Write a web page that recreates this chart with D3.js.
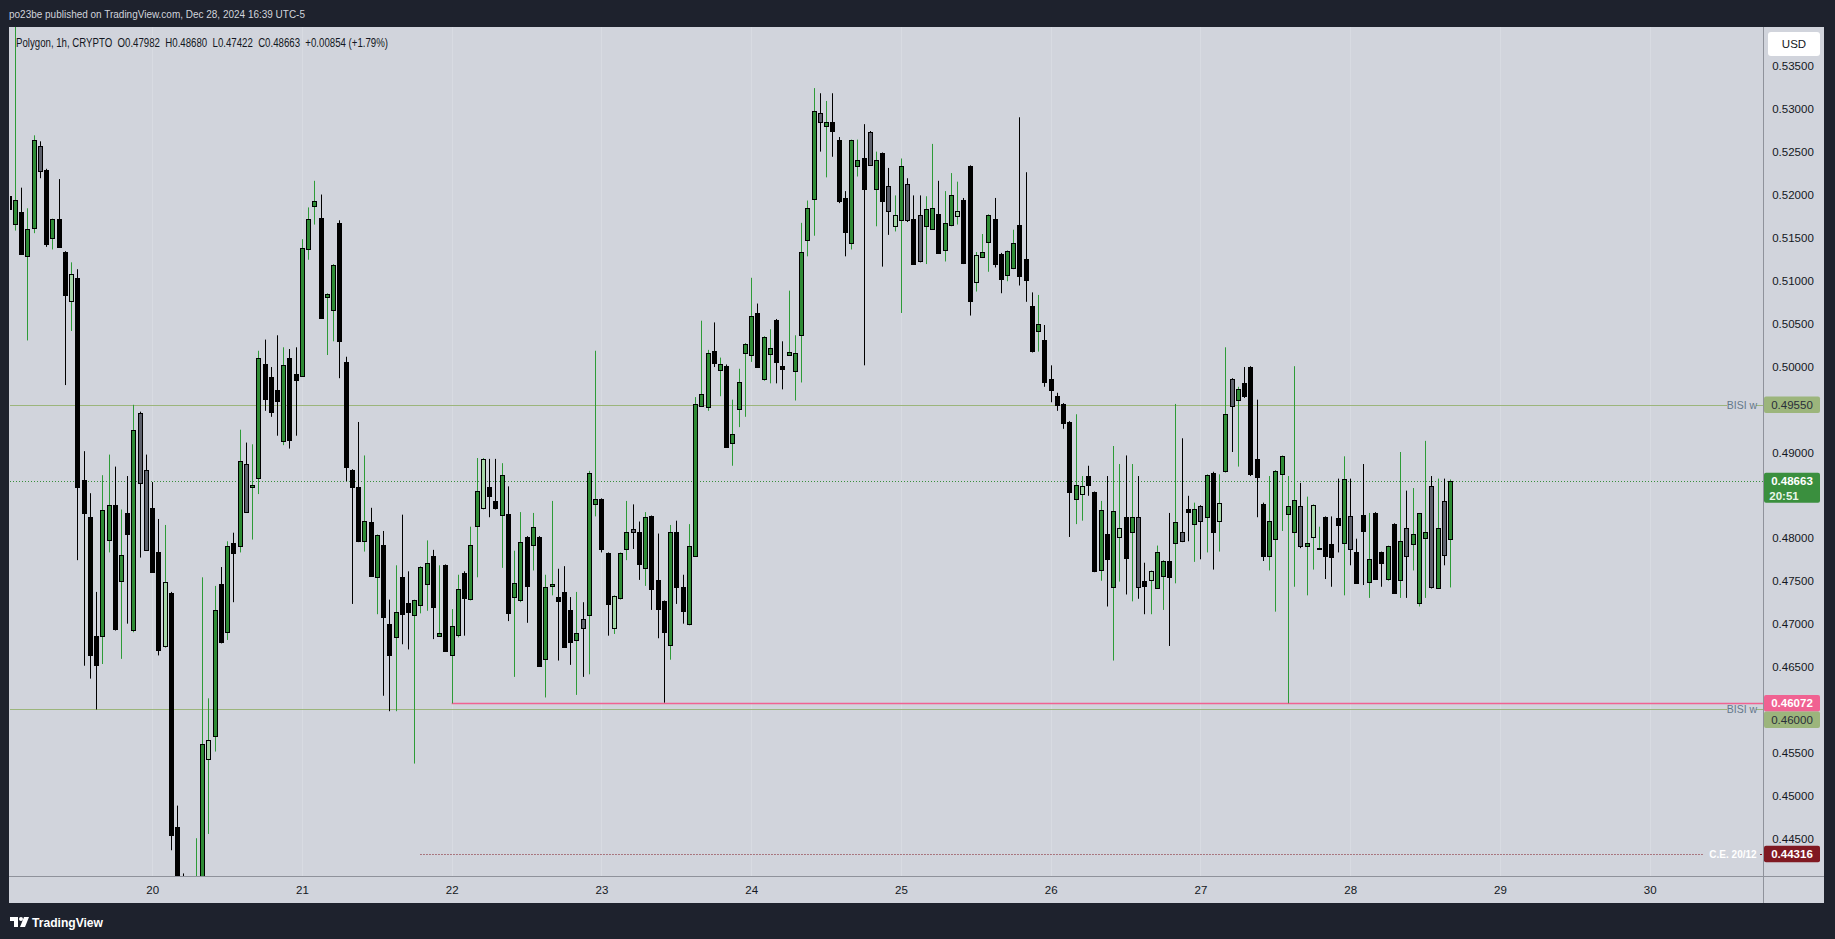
<!DOCTYPE html>
<html><head><meta charset="utf-8">
<script src="https://cdn.jsdelivr.net/npm/d3@7"></script>
<style>html,body{margin:0;padding:0;background:#1e222d;}svg{display:block;}</style>
</head><body>
<script>
// ---------- DATA (Polygon, 1h, CRYPTO) ----------
const startTime = "2024-12-19T01:00:00Z"; // first hourly bar, bars follow every hour
const open = [
 0.5198,0.5166,0.5180,0.5129,0.5160,0.5257,0.5229,0.5149,0.5172,0.5133,0.5075,0.5103,0.4867,0.4824,0.4686,0.4686,0.4797,0.4838,0.4750,0.4829,0.4693,0.4945,0.4879,
 0.4835,0.4784,0.4674,0.4736,0.4463,0.4380,0.4340,0.4370,0.4400,0.4543,0.4569,0.4746,0.4690,0.4794,0.4790,0.4886,0.4860,0.4870,0.5002,0.4987,0.4972,0.4913,0.5009,0.4991,
 0.4989,0.5137,0.5187,0.5173,0.5080,0.5065,0.5167,0.5005,0.4879,0.4859,0.4797,0.4819,0.4754,0.4792,0.4700,0.4685,0.4754,0.4724,0.4710,0.4722,0.4747,0.4779,0.4686,0.4768,
 0.4663,0.4686,0.4759,0.4729,0.4813,0.4835,0.4859,0.4843,0.4826,0.4828,0.4731,0.4727,0.4801,0.4792,0.4801,0.4659,0.4744,0.4731,0.4737,0.4716,0.4681,0.4705,0.4711,0.4839,
 0.4845,0.4782,0.4695,0.4729,0.4787,0.4810,0.4807,0.4764,0.4825,0.4751,0.4726,0.4675,0.4807,0.4743,0.4700,0.4779,0.4954,0.4952,0.5018,0.4996,0.5000,0.4910,0.4950,0.5015,
 0.5014,0.5062,0.4985,0.5014,0.5054,0.5000,0.5014,0.4994,0.5036,0.5147,0.5194,0.5295,0.5280,0.5284,0.5263,0.5196,0.5143,0.5233,0.5242,0.5273,0.5206,0.5248,0.5210,0.5163,
 0.5170,0.5212,0.5172,0.5176,0.5163,0.5160,0.5177,0.5136,0.5165,0.5175,0.5194,0.5233,0.5097,0.5127,0.5144,0.5172,0.5131,0.5106,0.5114,0.5164,0.5125,0.5070,0.5041,0.5031,
 0.4985,0.4965,0.4956,0.4935,0.4846,0.4851,0.4872,0.4853,0.4762,0.4805,0.4742,0.4801,0.4824,0.4807,0.4824,0.4750,0.4751,0.4742,0.4756,0.4773,0.4793,0.4807,0.4834,0.4817,
 0.4837,0.4824,0.4876,0.4820,0.4878,0.4985,0.4960,0.4980,0.4999,0.4892,0.4840,0.4779,0.4799,0.4874,0.4828,0.4807,0.4837,0.4791,0.4801,0.4787,0.4824,0.4793,0.4823,0.4793,
 0.4825,0.4784,0.4827,0.4748,0.4829,0.4783,0.4751,0.4816,0.4751,0.4812,0.4792,0.4724,0.4800,0.4860,0.4742,0.4843,0.47982
];
const high = [
 0.5202,0.5420,0.5208,0.5184,0.5269,0.5262,0.5230,0.5172,0.5218,0.5134,0.5121,0.5113,0.4901,0.4852,0.4737,0.4873,0.4897,0.4883,0.4833,0.4872,0.4955,0.4947,0.4897,
 0.4865,0.4822,0.4815,0.4737,0.4488,0.4409,0.4395,0.4450,0.4754,0.4613,0.4744,0.4766,0.4796,0.4806,0.4926,0.4911,0.4909,0.5018,0.5031,0.4999,0.5036,0.5022,0.5020,0.5022,
 0.5148,0.5185,0.5216,0.5200,0.5085,0.5119,0.5170,0.5011,0.4880,0.4935,0.4896,0.4835,0.4804,0.4808,0.4728,0.4768,0.4827,0.4761,0.4728,0.4767,0.4797,0.4786,0.4768,0.4769,
 0.4717,0.4757,0.4761,0.4813,0.4893,0.4893,0.4892,0.4892,0.4887,0.4860,0.4785,0.4830,0.4802,0.4829,0.4802,0.4757,0.4843,0.4764,0.4767,0.4731,0.4737,0.4725,0.4878,0.5018,
 0.4846,0.4783,0.4733,0.4783,0.4843,0.4839,0.4819,0.4830,0.4826,0.4805,0.4727,0.4815,0.4820,0.4757,0.4816,0.4964,0.5053,0.5019,0.5051,0.5010,0.5002,0.4961,0.4997,0.5027,
 0.5103,0.5073,0.5035,0.5043,0.5055,0.5029,0.5088,0.5036,0.5167,0.5193,0.5324,0.5318,0.5309,0.5318,0.5267,0.5204,0.5264,0.5264,0.5282,0.5274,0.5250,0.5249,0.5231,0.5199,
 0.5242,0.5219,0.5199,0.5199,0.5198,0.5259,0.5216,0.5204,0.5225,0.5215,0.5196,0.5234,0.5133,0.5154,0.5177,0.5196,0.5132,0.5135,0.5159,0.5290,0.5226,0.5086,0.5083,0.5048,
 0.5001,0.4969,0.4957,0.4936,0.4944,0.4872,0.4884,0.4854,0.4843,0.4872,0.4907,0.4886,0.4896,0.4886,0.4872,0.4771,0.4762,0.4791,0.4774,0.4829,0.4956,0.4916,0.4849,0.4841,
 0.4838,0.4874,0.4877,0.4874,0.5022,0.4986,0.4976,0.4999,0.5000,0.4961,0.4841,0.4872,0.4879,0.4896,0.4872,0.5000,0.4864,0.4848,0.4839,0.4813,0.4825,0.4825,0.4869,0.4895,
 0.4869,0.4799,0.4886,0.4829,0.4830,0.4784,0.4791,0.4817,0.4900,0.4855,0.4858,0.4829,0.4913,0.4872,0.4869,0.4869,0.48680
];
const low = [
 0.5180,0.5158,0.5130,0.5030,0.5155,0.5219,0.5139,0.5136,0.5138,0.4978,0.5041,0.4774,0.4651,0.4636,0.4600,0.4653,0.4783,0.4692,0.4659,0.4700,0.4690,0.4777,0.4785,
 0.4760,0.4663,0.4672,0.4436,0.4355,0.4310,0.4300,0.4350,0.4385,0.4455,0.4551,0.4677,0.4681,0.4725,0.4783,0.4829,0.4798,0.4851,0.4948,0.4941,0.4919,0.4908,0.4904,0.4919,
 0.4988,0.5124,0.5165,0.5055,0.5013,0.5029,0.4986,0.4866,0.4723,0.4795,0.4784,0.4755,0.4711,0.4616,0.4598,0.4598,0.4676,0.4670,0.4537,0.4712,0.4715,0.4682,0.4685,0.4667,
 0.46072,0.4684,0.4686,0.4727,0.4754,0.4833,0.4824,0.4833,0.4765,0.4703,0.4638,0.4725,0.4701,0.4762,0.4650,0.4614,0.4733,0.4657,0.4672,0.4652,0.4617,0.4638,0.4641,0.4825,
 0.4783,0.4686,0.4688,0.4728,0.4774,0.4787,0.4751,0.4744,0.4716,0.4683,0.4608,0.4658,0.4723,0.4700,0.4698,0.4778,0.4953,0.4948,0.4999,0.4965,0.4905,0.4884,0.4929,0.4941,
 0.5005,0.4998,0.4983,0.4980,0.4980,0.4973,0.5012,0.4960,0.4981,0.5128,0.5152,0.5250,0.5220,0.5244,0.5190,0.5128,0.5136,0.5221,0.5001,0.5234,0.5163,0.5116,0.5153,0.5157,
 0.5062,0.5168,0.5118,0.5121,0.5119,0.5159,0.5131,0.5122,0.5163,0.5165,0.5119,0.5059,0.5087,0.5126,0.5110,0.5115,0.5085,0.5099,0.5113,0.5094,0.5075,0.5016,0.5017,0.4976,
 0.4958,0.4948,0.4927,0.4801,0.4816,0.4820,0.4849,0.4760,0.4750,0.4720,0.4657,0.4749,0.4734,0.4726,0.4729,0.4711,0.4711,0.4741,0.4716,0.4674,0.4747,0.4795,0.4796,0.4772,
 0.4775,0.4783,0.4763,0.4784,0.4876,0.4900,0.4883,0.4963,0.4872,0.4824,0.4773,0.4762,0.4714,0.4808,0.46072,0.4743,0.4788,0.4733,0.4763,0.4786,0.4752,0.4743,0.4783,0.4733,
 0.4768,0.4747,0.4745,0.4730,0.4751,0.4743,0.4750,0.4735,0.4730,0.4730,0.4762,0.4720,0.4730,0.4741,0.4741,0.4768,0.47422
];
const close = [
 0.5183,0.5194,0.5131,0.5160,0.5263,0.5228,0.5143,0.5171,0.5139,0.5083,0.5107,0.4859,0.4828,0.4663,0.4652,0.4833,0.4838,0.4693,0.4780,0.4804,0.4926,0.4863,0.4786,
 0.4761,0.4670,0.4748,0.4454,0.4380,0.4340,0.4370,0.4400,0.4560,0.4565,0.4716,0.4678,0.4790,0.4782,0.4889,0.4830,0.4862,0.5010,0.4961,0.4946,0.4959,0.5001,0.4913,0.4984,
 0.5138,0.5172,0.5193,0.5057,0.5084,0.5118,0.5029,0.4883,0.4859,0.4796,0.4820,0.4756,0.4803,0.4708,0.4664,0.4714,0.4711,0.4713,0.4727,0.4766,0.4771,0.4720,0.4689,0.4668,
 0.4697,0.4740,0.4730,0.4792,0.4854,0.4892,0.4848,0.4835,0.4873,0.4713,0.4747,0.4795,0.4744,0.4813,0.4651,0.4743,0.4746,0.4726,0.4673,0.4679,0.4689,0.4695,0.4876,0.4845,
 0.4787,0.4722,0.4732,0.4782,0.4807,0.4806,0.4770,0.4824,0.4740,0.4717,0.4690,0.4807,0.4743,0.4715,0.4791,0.4956,0.4968,0.5015,0.5004,0.5003,0.4906,0.4921,0.4981,0.5026,
 0.5059,0.4999,0.5034,0.5021,0.5005,0.4996,0.5017,0.5015,0.5133,0.5184,0.5297,0.5285,0.5285,0.5273,0.5192,0.5156,0.5263,0.5240,0.5206,0.5235,0.5240,0.5192,0.5181,0.5176,
 0.5233,0.5170,0.5119,0.5122,0.5183,0.5184,0.5132,0.5167,0.5200,0.5181,0.5121,0.5076,0.5129,0.5133,0.5176,0.5119,0.5102,0.5134,0.5143,0.5104,0.5100,0.5017,0.5049,0.4982,
 0.4972,0.4954,0.4934,0.4854,0.4862,0.4860,0.4861,0.4761,0.4832,0.4776,0.4831,0.4812,0.4776,0.4824,0.4743,0.4744,0.4761,0.4784,0.4773,0.4754,0.4818,0.4796,0.4831,0.4834,
 0.4820,0.4873,0.4807,0.4841,0.4944,0.4953,0.4973,0.4965,0.4874,0.4871,0.4779,0.4820,0.4878,0.4895,0.4837,0.4844,0.4790,0.4794,0.4838,0.4788,0.4779,0.4778,0.4815,0.4868,
 0.4786,0.4748,0.4808,0.4775,0.4752,0.4770,0.4790,0.4736,0.4796,0.4779,0.4804,0.4829,0.4807,0.4742,0.4812,0.4780,0.48663
];
// bars painted in the muted variant (grey when falling, pale green when rising)
const mutedBars = [5,10,21,22,25,32,38,76,92,97,100,130,138,141,142,144,146,152,155,172,178,181,183,188,191,194,196,207,209,215,224,228,230];

const dayTicks = ["2024-12-20","2024-12-21","2024-12-22","2024-12-23","2024-12-24","2024-12-25","2024-12-26","2024-12-27","2024-12-28","2024-12-29","2024-12-30"];
const priceTicks = [0.445,0.450,0.455,0.460,0.465,0.470,0.475,0.480,0.485,0.490,0.495,0.500,0.505,0.510,0.515,0.520,0.525,0.530,0.535];

const bisiLevels = [0.4955, 0.4600];
const lowLevel = {price:0.46072, from:"2024-12-22T00:00:00Z"};
const ceLevel = {price:0.44316, from:"2024-12-21T19:00:00Z", label:"C.E. 20/12"};
const lastPrice = 0.48663, countdown = "20:51";
const headerText = "po23be published on TradingView.com, Dec 28, 2024 16:39 UTC-5";
const legendText = "Polygon, 1h, CRYPTO  O0.47982  H0.48680  L0.47422  C0.48663  +0.00854 (+1.79%)";

// ---------- DRAWING ----------
const W = 1835, H = 939;
const P = {l:10, t:27, r:1763, b:876};
const FONT = "'Liberation Sans', Arial, sans-serif";
const svg = d3.select("body").append("svg").attr("width", W).attr("height", H);
svg.append("rect").attr("width", W).attr("height", H).attr("fill", "#1e222d");
svg.append("rect").attr("x", 9).attr("y", 27).attr("width", 1824 - 9).attr("height", 903 - 27).attr("fill", "#d1d4dc");

const t0 = Date.UTC(2024, 11, 20), HR = 3600e3;
const x = d3.scaleUtc().domain([new Date(t0 - 22.79 * HR), new Date(t0 + 258.16 * HR)]).range([P.l, P.r]);
const y = d3.scaleLinear().domain([0.4406, 0.53952]).range([P.b, P.t]);

const start = Date.parse(startTime);
const bars = open.map((o, i) => ({t: new Date(start + i * HR), o, h: high[i], l: low[i], c: close[i], muted: mutedBars.includes(i)}));

svg.append("defs").append("clipPath").attr("id", "pane").append("rect")
  .attr("x", P.l).attr("y", P.t).attr("width", P.r - P.l).attr("height", P.b - P.t);

// faint day separators
const days = dayTicks.map(d => new Date(d + "T00:00:00Z"));
svg.append("g").selectAll("line").data(days).join("line")
  .attr("x1", d => Math.round(x(d)) + 0.5).attr("x2", d => Math.round(x(d)) + 0.5)
  .attr("y1", P.t).attr("y2", P.b).attr("stroke", "#d8dbe2").attr("stroke-width", 1);

const plot = svg.append("g").attr("clip-path", "url(#pane)");

// level lines
bisiLevels.forEach(p => {
  const yy = Math.round(y(p)) + 0.5;
  plot.append("line").attr("x1", P.l).attr("x2", 1727).attr("y1", yy).attr("y2", yy).attr("stroke", "#9cb57c").attr("stroke-width", 1);
  svg.append("line").attr("x1", 1756).attr("x2", P.r).attr("y1", yy).attr("y2", yy).attr("stroke", "#9cb57c").attr("stroke-width", 1);
  svg.append("text").attr("x", 1742).attr("y", yy).attr("dy", "0.35em").attr("text-anchor", "middle")
    .attr("font-family", FONT).attr("font-size", 10.5).attr("fill", "#64788a").text("BISI w");
});
{
  const yy = Math.round(y(lowLevel.price)) + 0.5;
  plot.append("line").attr("x1", x(new Date(lowLevel.from))).attr("x2", P.r).attr("y1", yy).attr("y2", yy)
    .attr("stroke", "#f06292").attr("stroke-width", 1.3);
}
{
  const yy = Math.round(y(ceLevel.price)) + 0.5;
  plot.append("line").attr("x1", x(new Date(ceLevel.from))).attr("x2", 1703).attr("y1", yy).attr("y2", yy)
    .attr("stroke", "#801922").attr("stroke-width", 1).attr("stroke-dasharray", "1,2");
  svg.append("text").attr("x", 1733).attr("y", yy).attr("dy", "0.35em").attr("text-anchor", "middle")
    .attr("font-family", FONT).attr("font-size", 10).attr("font-weight", "bold").attr("fill", "#ffffff").text(ceLevel.label);
  svg.append("line").attr("x1", 1760).attr("x2", 1762).attr("y1", yy).attr("y2", yy).attr("stroke", "#801922");
}
{
  const yy = Math.round(y(lastPrice)) + 0.5;
  plot.append("line").attr("x1", P.l).attr("x2", P.r).attr("y1", yy).attr("y2", yy)
    .attr("stroke", "#388e3c").attr("stroke-width", 1).attr("stroke-dasharray", "1,2");
}

// candles
const cx = d => Math.round(x(d.t)) + 0.5;
const g = plot.append("g");
g.selectAll("line.wick").data(bars).join("line").attr("class", "wick")
  .attr("x1", cx).attr("x2", cx)
  .attr("y1", d => y(d.h)).attr("y2", d => y(d.l))
  .attr("stroke", d => d.c >= d.o ? "#2e9b38" : "#000000").attr("stroke-width", 1);
g.selectAll("rect.body").data(bars).join("rect").attr("class", "body")
  .attr("x", d => cx(d) - 2).attr("width", 4)
  .attr("y", d => Math.round(y(Math.max(d.o, d.c))) + 0.5)
  .attr("height", d => Math.max(1, Math.round(y(Math.min(d.o, d.c)) - y(Math.max(d.o, d.c)))))
  .attr("fill", d => d.c >= d.o ? (d.muted ? "#a5d6a7" : "#2e8b35") : (d.muted ? "#5d606b" : "#000000"))
  .attr("stroke", "#000000").attr("stroke-width", 1);

// axes separators
svg.append("line").attr("x1", P.r + 0.5).attr("x2", P.r + 0.5).attr("y1", 27).attr("y2", 903).attr("stroke", "#8f929b");
svg.append("line").attr("x1", 9).attr("x2", 1824).attr("y1", P.b + 0.5).attr("y2", P.b + 0.5).attr("stroke", "#8f929b");

// x axis
const xAxis = svg.append("g").attr("transform", `translate(0,${P.b})`)
  .call(d3.axisBottom(x).tickValues(days).tickFormat(d3.utcFormat("%-d")).tickSize(0));
xAxis.select(".domain").remove();
xAxis.selectAll("text").attr("y", 18).attr("dy", 0).attr("font-family", FONT).attr("font-size", 11.5).attr("fill", "#131722");

// price tags (stacked so they never overlap, as on the price scale)
const tagDefs = [
  {price: bisiLevels[0], bg: "#9cb57c", fg: "#2a2e39", bold: false},
  {price: lastPrice, bg: "#3a8f3e", fg: "#ffffff", bold: true, sub: countdown},
  {price: lowLevel.price, bg: "#f06292", fg: "#ffffff", bold: true},
  {price: bisiLevels[1], bg: "#9cb57c", fg: "#2a2e39", bold: false},
  {price: ceLevel.price, bg: "#801922", fg: "#ffffff", bold: true}
];
let prevBottom = -Infinity;
tagDefs.sort((a, b) => y(a.price) - y(b.price)).forEach(t => {
  const h = t.sub ? 30 : 16.5;
  let top = y(t.price) - 8.2;
  if (top < prevBottom) top = prevBottom;
  t.top = top; t.bottom = top + h;
  prevBottom = t.bottom;
});

// y axis (labels hidden where a tag covers them)
const yAxis = svg.append("g").attr("transform", `translate(${P.r},0)`)
  .call(d3.axisRight(y).tickValues(priceTicks).tickFormat(d3.format(".5f")).tickSize(0));
yAxis.select(".domain").remove();
yAxis.selectAll("text").attr("x", 30).attr("text-anchor", "middle").attr("dy", "0.35em")
  .attr("font-family", FONT).attr("font-size", 11.5).attr("fill", "#131722");
yAxis.selectAll(".tick").filter(v => tagDefs.some(t => y(v) > t.top - 5 && y(v) < t.bottom + 5)).remove();

tagDefs.forEach(t => {
  svg.append("rect").attr("x", 1764).attr("y", t.top).attr("width", 56).attr("height", t.bottom - t.top).attr("rx", 2).attr("fill", t.bg);
  const cy = t.top + 8.2;
  svg.append("text").attr("x", 1792).attr("y", cy).attr("dy", "0.36em").attr("text-anchor", "middle")
    .attr("font-family", FONT).attr("font-size", 11.5).attr("font-weight", t.bold ? "bold" : "normal").attr("fill", t.fg)
    .text(d3.format(".5f")(t.price));
  if (t.sub) svg.append("text").attr("x", 1784).attr("y", cy + 14.5).attr("dy", "0.36em").attr("text-anchor", "middle")
    .attr("font-family", FONT).attr("font-size", 11.5).attr("font-weight", "bold").attr("fill", "#e8f5e9").text(t.sub);
});

// currency box
svg.append("rect").attr("x", 1768).attr("y", 32).attr("width", 52).attr("height", 24).attr("rx", 3).attr("fill", "#ffffff");
svg.append("text").attr("x", 1794).attr("y", 44).attr("dy", "0.35em").attr("text-anchor", "middle")
  .attr("font-family", FONT).attr("font-size", 11.5).attr("fill", "#131722").text("USD");

// header & legend
svg.append("text").attr("x", 9).attr("y", 17.5).attr("font-family", FONT).attr("font-size", 11.5)
  .attr("fill", "#d1d4dc").attr("textLength", 296).attr("lengthAdjust", "spacingAndGlyphs").text(headerText);
svg.append("text").attr("x", 16).attr("y", 46.5).attr("font-family", FONT).attr("font-size", 12)
  .attr("fill", "#131722").attr("textLength", 372).attr("lengthAdjust", "spacingAndGlyphs")
  .attr("xml:space", "preserve").style("white-space", "pre").text(legendText);

// TradingView logo
const logo = svg.append("g").attr("fill", "#ffffff");
logo.append("path").attr("d", "M10,917 h8 v10 h-4 v-6 h-4 z");
logo.append("circle").attr("cx", 21).attr("cy", 919).attr("r", 2);
logo.append("path").attr("d", "M24,917 h5 l-4,10 h-5 z");
svg.append("text").attr("x", 32).attr("y", 927).attr("font-family", FONT).attr("font-size", 13).attr("font-weight", "bold")
  .attr("fill", "#ffffff").attr("textLength", 71).attr("lengthAdjust", "spacingAndGlyphs").text("TradingView");
</script>
</body></html>
